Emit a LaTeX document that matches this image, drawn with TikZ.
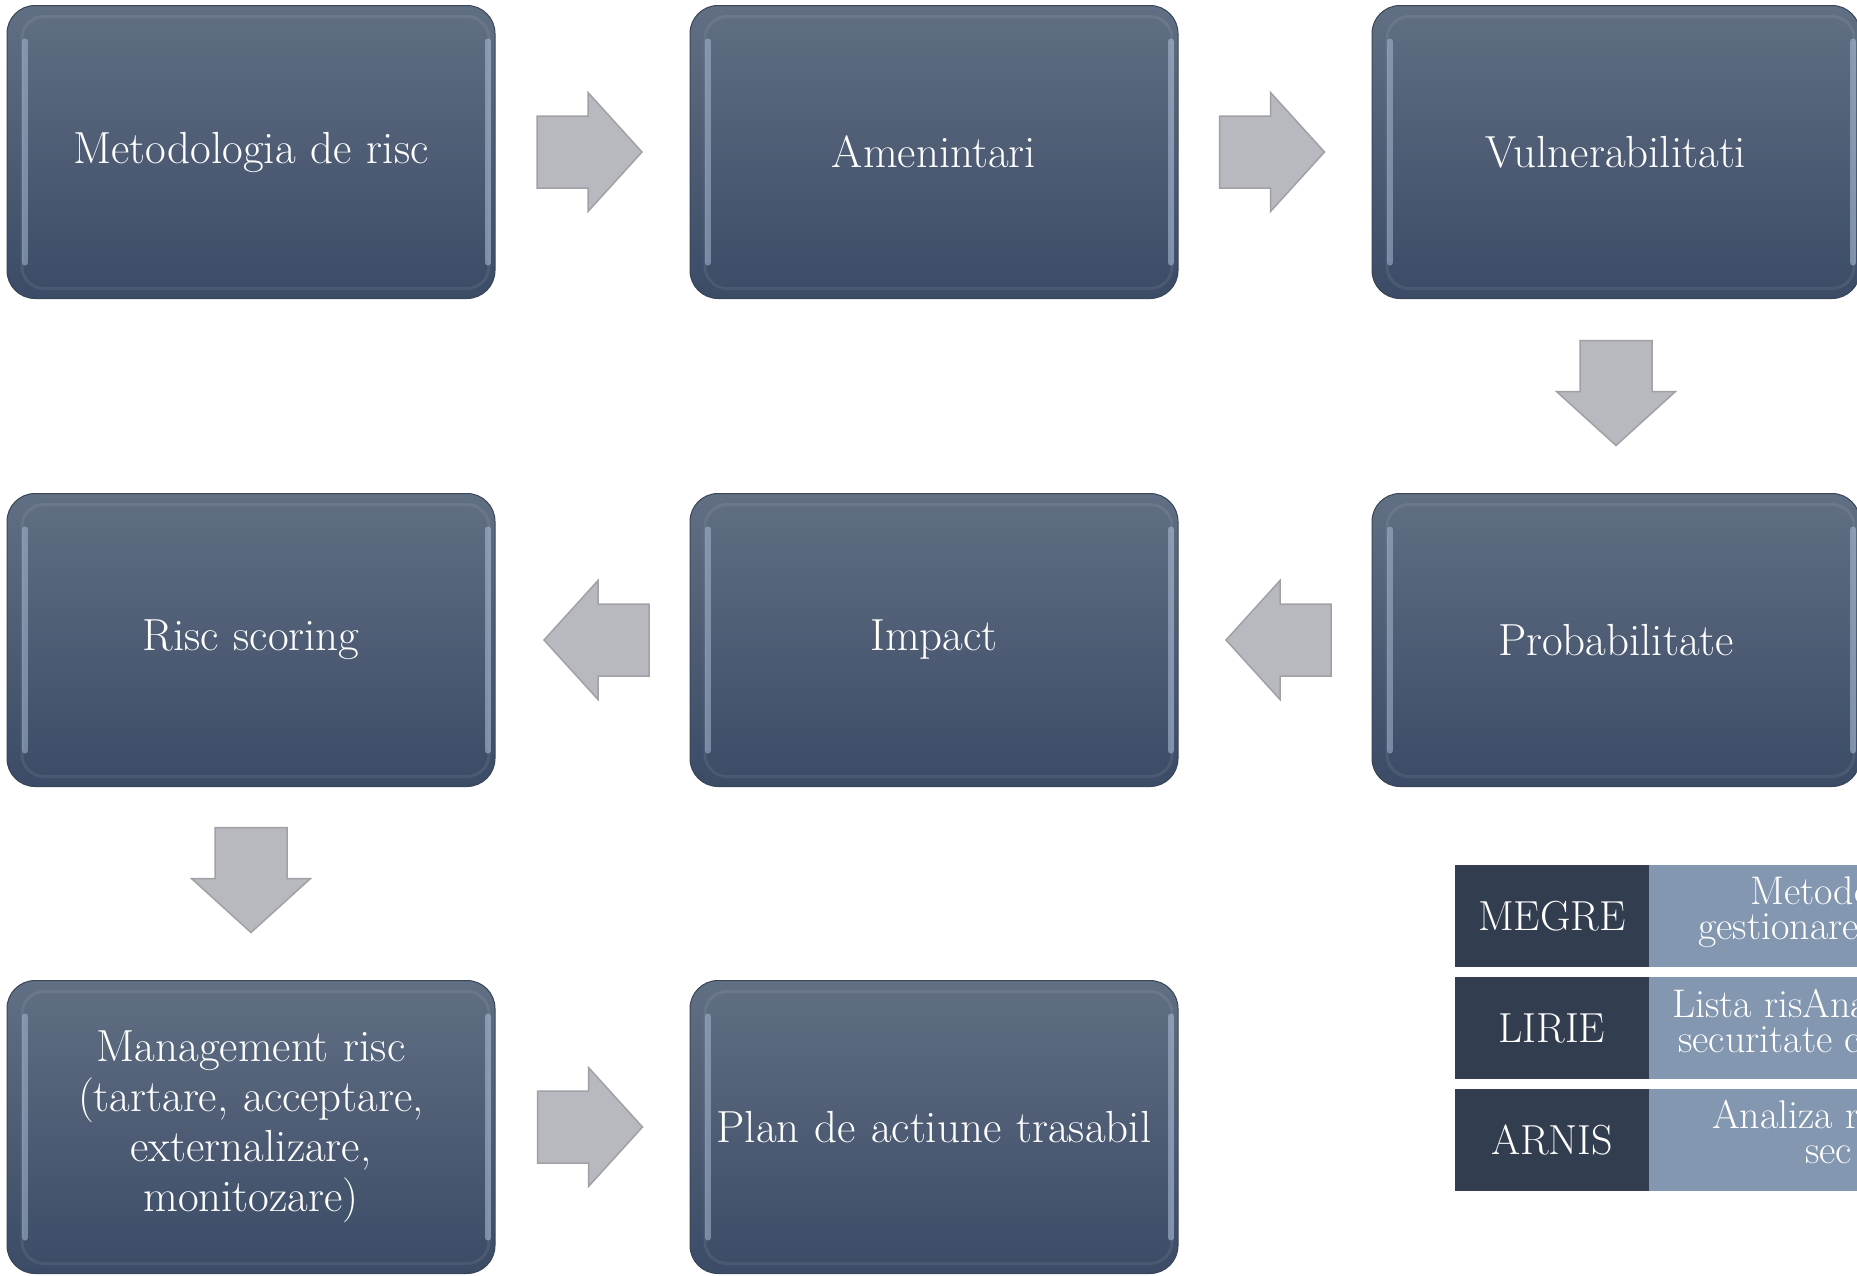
\documentclass[tikz,border=0pt]{standalone}
\usepackage{fontspec}
\usetikzlibrary{calc}
\definecolor{boxtop}{HTML}{606F83}
\definecolor{boxbot}{HTML}{3C4B66}
\definecolor{boxedge}{HTML}{3A4557}
\definecolor{hl}{HTML}{A6B9D2}
\definecolor{arrfill}{HTML}{B8B9BE}
\definecolor{arredge}{HTML}{A0A1A6}
\definecolor{tdark}{HTML}{333D50}
\definecolor{tlight}{HTML}{8497B0}
\tikzset{
  stepbox/.style={rectangle, rounded corners=28pt, minimum width=488pt,
    minimum height=293pt, top color=boxtop, bottom color=boxbot,
    draw=boxedge, line width=1pt, text=white,
    font=\fontsize{45}{50}\selectfont, align=center, text width=470pt,
    inner sep=0pt,
    path picture={
      \path (path picture bounding box.north west) coordinate (nw)
            (path picture bounding box.south east) coordinate (se);
      \draw[white, opacity=0.07, line width=3pt, rounded corners=22pt]
        ($(nw)+(15,11)$) rectangle ($(se)+(-6,-10)$);
      \draw[hl, line width=6pt, line cap=round, opacity=0.55]
        ($(nw)+(18,36)$) -- ($(nw|-se)+(18,-36)$);
      \draw[hl, line width=6pt, line cap=round, opacity=0.6]
        ($(se|-nw)+(-7,36)$) -- ($(se)+(-7,-36)$);
    }},
  blockarrow/.pic={
    \path[fill=arrfill, draw=arredge, line width=1.5pt]
      (-52.5,-36) -- (-1.5,-36) -- (-1.5,-59.5) -- (52.5,0) --
      (-1.5,59.5) -- (-1.5,36) -- (-52.5,36) -- cycle;},
  tkey/.style={rectangle, fill=tdark, minimum width=194pt, minimum height=102pt,
    inner sep=0pt, text=white, font=\fontsize{42}{44}\selectfont},
  tval/.style={rectangle, fill=tlight, minimum width=300pt, minimum height=102pt,
    inner sep=0pt, anchor=west},
  tcell/.style={anchor=north west, inner sep=0pt, text=white, align=left,
    font=\fontsize{40}{35}\selectfont},
}
\begin{document}
\begin{tikzpicture}[x=1pt, y=-1pt]
\useasboundingbox (0,0) rectangle (1857,1275);
\clip (0,0) rectangle (1857,1275);
% boxes
\node[stepbox] (b1) at (251,152) {Metodologia de risc};
\node[stepbox] (b2) at (934,152) {Amenintari};
\node[stepbox] (b3) at (1616,152) {Vulnerabilitati};
\node[stepbox] (b4) at (251,640) {Risc scoring};
\node[stepbox] (b5) at (934,640) {Impact};
\node[stepbox] (b6) at (1616,640) {Probabilitate};
\node[stepbox] (b7) at (251,1127) {Management risc\\(tartare, acceptare,\\externalizare,\\monitozare)};
\node[stepbox] (b8) at (934,1127) {Plan de actiune trasabil};
% block arrows
\pic[xshift=-3pt] at ($(b1.east)!0.5!(b2.west)$) {blockarrow};
\pic[xshift=-3pt] at ($(b2.east)!0.5!(b3.west)$) {blockarrow};
\pic[yshift=3pt, rotate=-90] at ($(b3.south)!0.5!(b6.north)$) {blockarrow};
\pic[xshift=3.5pt, rotate=180] at ($(b6.west)!0.5!(b5.east)$) {blockarrow};
\pic[xshift=4pt, rotate=180] at ($(b5.west)!0.5!(b4.east)$) {blockarrow};
\pic[yshift=3.5pt, rotate=-90] at ($(b4.south)!0.5!(b7.north)$) {blockarrow};
\pic[xshift=-2.5pt] at ($(b7.east)!0.5!(b8.west)$) {blockarrow};
% table
\node[tkey] (k1) at (1552,916) {MEGRE};
\node[tkey] (k2) at (1552,1028) {LIRIE};
\node[tkey] (k3) at (1552,1140) {ARNIS};
\node[tval] (v1) at (k1.east) {};
\node[tval] (v2) at (k2.east) {};
\node[tval] (v3) at (k3.east) {};
\node[tcell] (t1) at (1698,877) {\hspace*{52pt}Metodo\\gestionare};
\node[tcell] (t2) at (1672,989) {Lista risAnal\\\hspace*{6pt}securitate cu};
\node[tcell] (t3) at (1712,1100) {Analiza ri\\\hspace*{93pt}sec};
\end{tikzpicture}
\end{document}
